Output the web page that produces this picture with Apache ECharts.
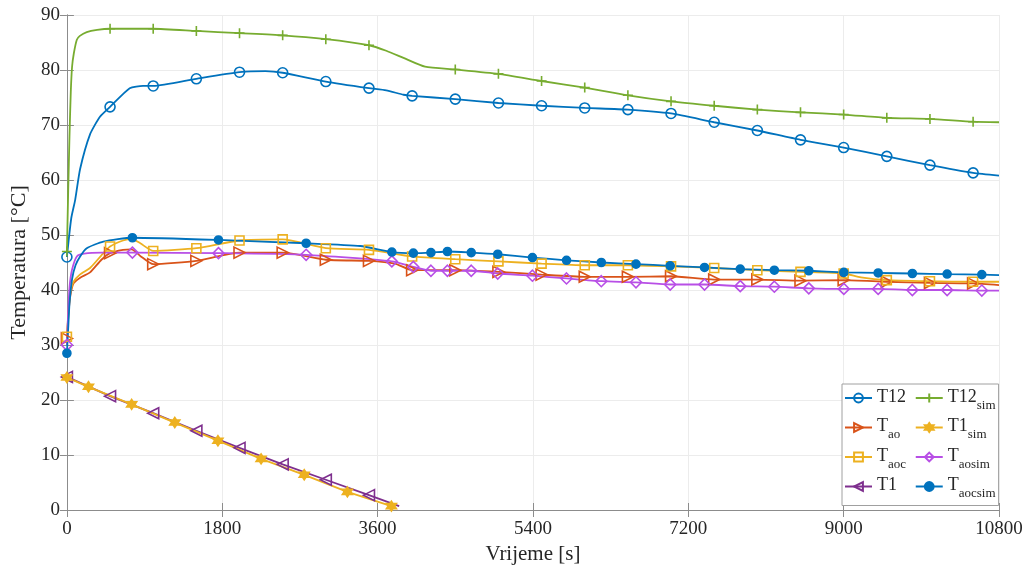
<!DOCTYPE html>
<html><head><meta charset="utf-8">
<script src="https://cdn.jsdelivr.net/npm/echarts@6/dist/echarts.min.js"></script>
<style>html,body{margin:0;padding:0;background:#fff}#c{width:1032px;height:572px}</style>
</head><body><div id="c"></div>
<script>
// ---- data (time in s, temperature in °C) ----
const xTickInterval = 1800;
const yTickInterval = 10;

const t12Time  = [0, 50, 96, 153, 268, 383, 500, 728, 882, 1000, 1500, 2000, 2300, 2500, 3000, 3500, 3700, 3900, 4000, 4500, 5000, 5500, 6000, 6500, 7000, 7500, 8000, 8500, 9000, 9500, 10000, 10500, 10800];
const t12Temp  = [46, 53, 56.4, 62, 68.3, 71.5, 73.3, 76.7, 77.1, 77.1, 78.4, 79.6, 79.8, 79.5, 77.9, 76.7, 76.3, 75.5, 75.3, 74.7, 74.0, 73.5, 73.1, 72.8, 72.1, 70.5, 69.0, 67.3, 65.9, 64.3, 62.7, 61.3, 60.8];
const t12Marks = [0, 500, 1000, 1500, 2000, 2500, 3000, 3500, 4000, 4500, 5000, 5500, 6000, 6500, 7000, 7500, 8000, 8500, 9000, 9500, 10000, 10500];

const t12simTime  = [0, 15, 30, 45, 60, 80, 115, 150, 230, 350, 500, 1000, 1500, 2000, 2500, 3000, 3500, 3700, 3900, 4150, 4500, 5000, 5500, 6000, 6500, 7000, 7500, 8000, 8500, 9000, 9500, 10000, 10500, 10800];
const t12simTemp  = [47, 58, 68, 76, 80.6, 83, 85.5, 86.2, 86.9, 87.3, 87.5, 87.5, 87.1, 86.7, 86.3, 85.6, 84.5, 83.5, 82.2, 80.6, 80.1, 79.3, 78.0, 76.8, 75.4, 74.3, 73.5, 72.8, 72.3, 71.9, 71.3, 71.1, 70.6, 70.5];
const t12simMarks = [0, 500, 1000, 1500, 2000, 2500, 3000, 3500, 4000, 4500, 5000, 5500, 6000, 6500, 7000, 7500, 8000, 8500, 9000, 9500, 10000, 10500];

const taoTime  = [0, 20, 40, 77, 150, 268, 400, 500, 650, 750, 850, 1000, 1500, 2000, 2500, 3000, 3500, 3800, 4000, 4500, 5000, 5500, 6000, 6500, 7000, 7500, 8000, 8500, 9000, 9500, 10000, 10500, 10800];
const taoTemp  = [31.2, 36, 39, 41.2, 42.2, 43.2, 45.5, 46.7, 47.3, 47.4, 46.2, 44.7, 45.3, 46.8, 46.8, 45.5, 45.3, 44.8, 43.6, 43.6, 43.3, 42.8, 42.4, 42.4, 42.5, 41.9, 41.9, 41.7, 41.8, 41.5, 41.3, 41.2, 40.9];
const taoMarks = [0, 500, 1000, 1500, 2000, 2500, 3000, 3500, 4000, 4500, 5000, 5500, 6000, 6500, 7000, 7500, 8000, 8500, 9000, 9500, 10000, 10500];

const taocTime  = [0, 20, 40, 77, 150, 268, 400, 500, 650, 750, 850, 1000, 1500, 2000, 2500, 3000, 3500, 4000, 4500, 5000, 5500, 6000, 6500, 7000, 7500, 8000, 8500, 9000, 9200, 9500, 10000, 10500, 10800];
const taocTemp  = [31.5, 36.5, 39.5, 41.5, 42.8, 44, 46.3, 47.9, 49.0, 49.3, 48.5, 47.1, 47.6, 49.0, 49.2, 47.6, 47.3, 46.1, 45.6, 45.2, 44.8, 44.5, 44.5, 44.3, 44.0, 43.6, 43.3, 43.0, 42.3, 41.8, 41.6, 41.5, 41.5];
const taocMarks = [0, 500, 1000, 1500, 2000, 2500, 3000, 3500, 4000, 4500, 5000, 5500, 6000, 6500, 7000, 7500, 8000, 8500, 9000, 9500, 10000, 10500];

const t1Time  = [0, 500, 1000, 1500, 2000, 2500, 3000, 3500, 3850];
const t1Temp  = [24.2, 20.7, 17.6, 14.4, 11.3, 8.3, 5.5, 2.7, 0.7];
const t1Marks = [0, 500, 1000, 1500, 2000, 2500, 3000, 3500];

const t1simTime  = [0, 250, 750, 1250, 1750, 2250, 2750, 3250, 3760];
const t1simTemp  = [24.1, 22.4, 19.2, 15.9, 12.6, 9.3, 6.4, 3.3, 0.7];
const t1simMarks = [0, 250, 750, 1250, 1750, 2250, 2750, 3250, 3760];

const taosimTime  = [0, 15, 31, 58, 115, 200, 400, 759, 1756, 2772, 3765, 4014, 4218, 4409, 4685, 4992, 5394, 5789, 6192, 6594, 6990, 7388, 7802, 8197, 8596, 9002, 9400, 9796, 10199, 10601, 10800];
const taosimTemp  = [30.0, 36, 40.6, 43.6, 46.1, 46.6, 46.8, 46.8, 46.7, 46.4, 45.2, 44.2, 43.5, 43.5, 43.5, 43.0, 42.6, 42.1, 41.6, 41.4, 41.0, 41.0, 40.7, 40.6, 40.3, 40.2, 40.2, 40.0, 40.0, 39.9, 39.9];
const taosimMarks = [0, 759, 1756, 2772, 3765, 4014, 4218, 4409, 4685, 4992, 5394, 5789, 6192, 6594, 6990, 7388, 7802, 8197, 8596, 9002, 9400, 9796, 10199, 10601];

const taocsimTime  = [0, 15, 30, 60, 100, 153, 230, 422, 759, 1756, 2772, 3400, 3765, 4014, 4218, 4409, 4685, 4992, 5394, 5789, 6192, 6594, 6990, 7388, 7802, 8197, 8596, 9002, 9400, 9796, 10199, 10601, 10800];
const taocsimTemp  = [28.5, 33, 37.5, 42, 44.5, 46.1, 47.6, 48.8, 49.5, 49.1, 48.5, 48.0, 46.9, 46.7, 46.8, 47.0, 46.8, 46.5, 45.9, 45.4, 45.0, 44.7, 44.4, 44.1, 43.8, 43.6, 43.5, 43.2, 43.1, 43.0, 42.9, 42.8, 42.7];
const taocsimMarks = [0, 759, 1756, 2772, 3765, 4014, 4218, 4409, 4685, 4992, 5394, 5789, 6192, 6594, 6990, 7388, 7802, 8197, 8596, 9002, 9400, 9796, 10199, 10601];

const legendLabels = {
  'T12': ['T12', ''], 'T12sim': ['T12', 'sim'], 'Tao': ['T', 'ao'], 'T1sim': ['T1', 'sim'],
  'Taoc': ['T', 'aoc'], 'Taosim': ['T', 'aosim'], 'T1': ['T1', ''], 'Taocsim': ['T', 'aocsim']
};

// ---- styling ----
const FONT = 'Liberation Serif';
const C = {blue:'#0072BD', orange:'#D95319', yellow:'#EDB120', purple:'#7E2F8E', green:'#77AC30', violet:'#B84FE6', blue2:'#0072BD'};
const SYM = {
  rtri: 'path://M0,0L10,5L0,10Z',
  ltri: 'path://M10,0L0,5L10,10Z',
  plus: 'path://M5,0L5,10M0,5L10,5',
  hex: 'path://M0,-10L2.89,-5L8.66,-5L5.77,0L8.66,5L2.89,5L0,10L-2.89,5L-8.66,5L-5.77,0L-8.66,-5L-2.89,-5Z'
};

function mkData(times, temps, marks) {
  return times.map((t, i) => {
    const d = {value: [t, temps[i]]};
    if (!marks.includes(t)) d.symbol = 'none';
    return d;
  });
}
function mkSeries(name, times, temps, marks, color, symbol, size, filled, smooth) {
  return {
    name, type: 'line', data: mkData(times, temps, marks),
    symbol, symbolSize: size, showAllSymbol: true, smooth: smooth,
    lineStyle: {color, width: 1.8},
    itemStyle: {color: filled ? color : 'rgba(255,255,255,0)', borderColor: color, borderWidth: 1.6},
    emphasis: {disabled: true}, z: 2
  };
}

const series = [
  mkSeries('T12', t12Time, t12Temp, t12Marks, C.blue, 'circle', 10, false, 0.2),
  mkSeries('Tao', taoTime, taoTemp, taoMarks, C.orange, SYM.rtri, 11, false, 0.2),
  mkSeries('Taoc', taocTime, taocTemp, taocMarks, C.yellow, 'rect', 9, false, 0.2),
  mkSeries('T1', t1Time, t1Temp, t1Marks, C.purple, SYM.ltri, 11, false, false),
  mkSeries('T12sim', t12simTime, t12simTemp, t12simMarks, C.green, SYM.plus, 10, false, 0.2),
  mkSeries('T1sim', t1simTime, t1simTemp, t1simMarks, C.yellow, SYM.hex, 10, true, false),
  mkSeries('Taosim', taosimTime, taosimTemp, taosimMarks, C.violet, 'diamond', 11, false, 0.2),
  mkSeries('Taocsim', taocsimTime, taocsimTemp, taocsimMarks, C.blue2, 'circle', 8, true, 0.2)
];

const axisCommon = {
  axisLine: {show: true, lineStyle: {color: '#8c8c8c', width: 1}},
  axisTick: {show: true, inside: true, length: 7, lineStyle: {color: '#8c8c8c', width: 1}}
};
const plainLabel = (v) => String(v);

const chart = echarts.init(document.getElementById('c'));
chart.setOption({
  animation: false,
  backgroundColor: '#fff',
  grid: {left: 60, top: 15, width: 939, height: 495, containLabel: false},
  xAxis: [
    Object.assign({type: 'value', min: 0, max: 10800, interval: xTickInterval, position: 'bottom',
      name: 'Vrijeme [s]', nameLocation: 'middle', nameGap: 31,
      nameTextStyle: {fontFamily: FONT, fontSize: 21, color: '#262626'},
      axisLabel: {fontFamily: FONT, fontSize: 19, color: '#262626', margin: 10, formatter: plainLabel},
      splitLine: {show: true, lineStyle: {color: '#ececec', width: 1}}}, axisCommon),
    Object.assign({type: 'value', min: 0, max: 10800, interval: xTickInterval, position: 'top',
      axisLabel: {show: false}, splitLine: {show: false}}, axisCommon)
  ],
  yAxis: [
    Object.assign({type: 'value', min: 0, max: 90, interval: yTickInterval, position: 'left',
      name: 'Temperatura [°C]', nameLocation: 'middle', nameGap: 23,
      nameTextStyle: {fontFamily: FONT, fontSize: 22, color: '#262626'},
      axisLabel: {fontFamily: FONT, fontSize: 19, color: '#262626', margin: 7, formatter: plainLabel},
      splitLine: {show: true, lineStyle: {color: '#ececec', width: 1}}}, axisCommon),
    Object.assign({type: 'value', min: 0, max: 90, interval: yTickInterval, position: 'right',
      axisLabel: {show: false}, splitLine: {show: false}}, axisCommon)
  ],
  legend: {
    orient: 'vertical', left: 842, top: 384, height: 122,
    data: ['T12', 'Tao', 'Taoc', 'T1', 'T12sim', 'T1sim', 'Taosim', 'Taocsim'],
    itemWidth: 27, itemHeight: 11, itemGap: 5.5,
    padding: [4, 3, 5, 2],
    backgroundColor: '#fff', borderColor: '#a0a0a0', borderWidth: 1,
    selectedMode: false,
    formatter: (n) => '{m|' + legendLabels[n][0] + '}{s|' + (legendLabels[n][1] || ' ') + '}',
    textStyle: {
      fontFamily: FONT, color: '#262626',
      rich: {
        m: {fontFamily: FONT, fontSize: 18, lineHeight: 20, verticalAlign: 'top', color: '#262626'},
        s: {fontFamily: FONT, fontSize: 13, lineHeight: 14, padding: [11, 0, 0, 0], verticalAlign: 'top', color: '#262626'}
      }
    }
  },
  series
});
</script>
</body></html>
